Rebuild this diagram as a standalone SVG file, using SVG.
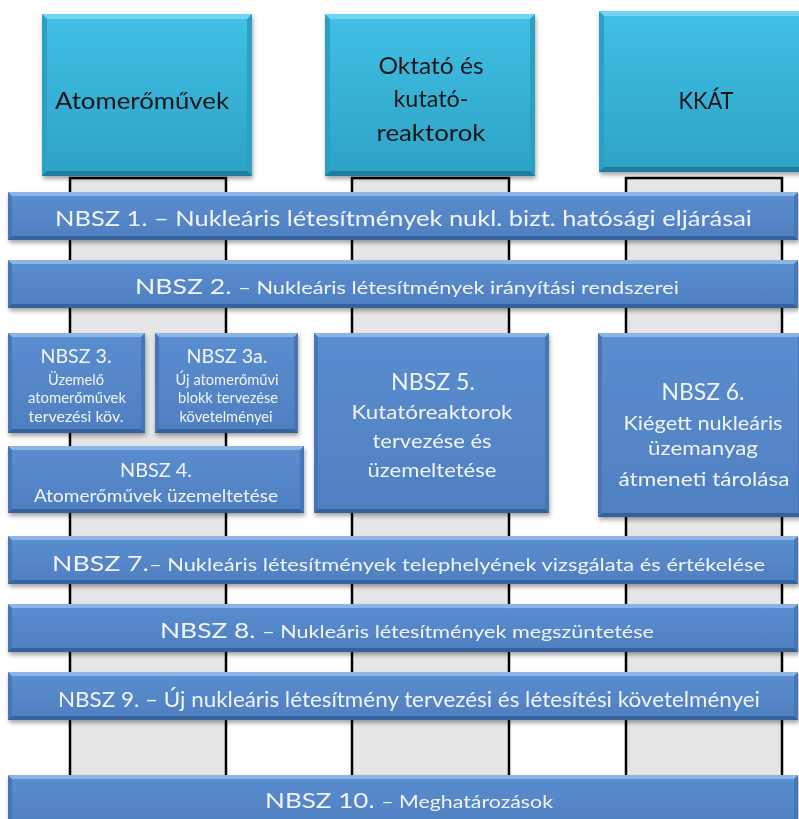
<svg xmlns="http://www.w3.org/2000/svg" width="799" height="819" viewBox="0 0 799 819">
<style>
.bs{fill:#4676b4}
.bt{fill:#8db4e6}
.bb{fill:#36629a}
.bi{fill:url(#gb)}
.hs{fill:#2aa0c4}
.ht{fill:#6fd6f2}
.hb{fill:#1c7e9c}
.hi{fill:url(#gh)}
.wt{font-family:Lato,"Open Sans","Liberation Sans",sans-serif;fill:#f1f5fb;text-anchor:middle}
.ht2{font-family:Lato,"Open Sans","Liberation Sans",sans-serif;fill:#161616;text-anchor:middle;font-size:23px}
.pil{fill:#e6e6e6}
.pl{fill:none;stroke:#000;stroke-width:2.5}
</style>
<defs>
<linearGradient id="gb" x1="0" y1="0" x2="0" y2="1">
<stop offset="0" stop-color="#5a8dcf"/>
<stop offset="1" stop-color="#4f80c1"/>
</linearGradient>
<linearGradient id="gh" x1="0" y1="0" x2="0" y2="1">
<stop offset="0" stop-color="#40bfe5"/>
<stop offset="1" stop-color="#2ea3c6"/>
</linearGradient>
<filter id="sh" x="-5%" y="-10%" width="110%" height="130%">
<feDropShadow dx="1" dy="3" stdDeviation="2" flood-color="#000" flood-opacity="0.35"/>
</filter>
</defs>

<g id="pillars">
<rect class="pil" x="70" y="178" width="156" height="597"/>
<rect class="pil" x="352" y="178" width="157" height="597"/>
<rect class="pil" x="626" y="178" width="156" height="597"/>
<path class="pl" d="M70,775V178H226V775"/>
<path class="pl" d="M352,775V178H509V775"/>
<path class="pl" d="M626,775V178H782V775"/>
</g>

<g id="h1" filter="url(#sh)">
<rect class="hs" x="42" y="14" width="210" height="162"/>
<polygon class="ht" points="42,14 252,14 247,19 47,19"/>
<polygon class="hb" points="42,176 252,176 247,171 47,171"/>
<rect class="hi" x="47" y="19" width="200" height="152"/>
<text class="ht2" x="142" y="109" textLength="174" lengthAdjust="spacingAndGlyphs">Atomerőművek</text>
</g>
<g id="h2" filter="url(#sh)">
<rect class="hs" x="325" y="14" width="210" height="162"/>
<polygon class="ht" points="325,14 535,14 530,19 330,19"/>
<polygon class="hb" points="325,176 535,176 530,171 330,171"/>
<rect class="hi" x="330" y="19" width="200" height="152"/>
<text class="ht2" x="431" y="74" textLength="105" lengthAdjust="spacingAndGlyphs">Oktató és</text>
<text class="ht2" x="431" y="107" textLength="75" lengthAdjust="spacingAndGlyphs">kutató-</text>
<text class="ht2" x="431" y="141" textLength="109" lengthAdjust="spacingAndGlyphs">reaktorok</text>
</g>
<g id="h3" filter="url(#sh)">
<rect class="hs" x="599" y="11" width="205" height="161"/>
<polygon class="ht" points="599,11 804,11 799,16 604,16"/>
<polygon class="hb" points="599,172 804,172 799,167 604,167"/>
<rect class="hi" x="604" y="16" width="195" height="151"/>
<text class="ht2" x="706" y="109" textLength="55" lengthAdjust="spacingAndGlyphs">KKÁT</text>
</g>

<g id="nbsz1" filter="url(#sh)">
<rect class="bs" x="8" y="192" width="790" height="48"/>
<polygon class="bt" points="8,192 798,192 794,196 12,196"/>
<polygon class="bb" points="8,240 798,240 794,236 12,236"/>
<rect class="bi" x="12" y="196" width="782" height="40"/>
<text class="wt" x="403.5" y="226" font-size="22" textLength="697" lengthAdjust="spacingAndGlyphs">NBSZ 1. – Nukleáris létesítmények nukl. bizt. hatósági eljárásai</text>
</g>
<g id="nbsz2" filter="url(#sh)">
<rect class="bs" x="8" y="260" width="790" height="48"/>
<polygon class="bt" points="8,260 798,260 794,264 12,264"/>
<polygon class="bb" points="8,308 798,308 794,304 12,304"/>
<rect class="bi" x="12" y="264" width="782" height="40"/>
<text class="wt" x="407" y="294" font-size="22" textLength="544" lengthAdjust="spacingAndGlyphs">NBSZ 2. <tspan font-size="18">– Nukleáris létesítmények irányítási rendszerei</tspan></text>
</g>
<g id="nbsz3" filter="url(#sh)">
<rect class="bs" x="8" y="333" width="137" height="100"/>
<polygon class="bt" points="8,333 145,333 141,337 12,337"/>
<polygon class="bb" points="8,433 145,433 141,429 12,429"/>
<rect class="bi" x="12" y="337" width="129" height="92"/>
<text class="wt" x="76" y="363" font-size="20" textLength="71" lengthAdjust="spacingAndGlyphs">NBSZ 3.</text>
<text class="wt" x="76" y="385" font-size="15" textLength="56" lengthAdjust="spacingAndGlyphs">Üzemelő</text>
<text class="wt" x="77" y="403" font-size="15" textLength="98" lengthAdjust="spacingAndGlyphs">atomerőművek</text>
<text class="wt" x="76" y="422" font-size="15" textLength="95" lengthAdjust="spacingAndGlyphs">tervezési köv.</text>
</g>
<g id="nbsz3a" filter="url(#sh)">
<rect class="bs" x="155" y="333" width="143" height="100"/>
<polygon class="bt" points="155,333 298,333 294,337 159,337"/>
<polygon class="bb" points="155,433 298,433 294,429 159,429"/>
<rect class="bi" x="159" y="337" width="135" height="92"/>
<text class="wt" x="227" y="363" font-size="20" textLength="81" lengthAdjust="spacingAndGlyphs">NBSZ 3a.</text>
<text class="wt" x="227" y="385" font-size="15" textLength="103" lengthAdjust="spacingAndGlyphs">Új atomerőművi</text>
<text class="wt" x="228" y="403" font-size="15" textLength="100" lengthAdjust="spacingAndGlyphs">blokk tervezése</text>
<text class="wt" x="226" y="422" font-size="15" textLength="93" lengthAdjust="spacingAndGlyphs">követelményei</text>
</g>
<g id="nbsz4" filter="url(#sh)">
<rect class="bs" x="8" y="446" width="296" height="67"/>
<polygon class="bt" points="8,446 304,446 300,450 12,450"/>
<polygon class="bb" points="8,513 304,513 300,509 12,509"/>
<rect class="bi" x="12" y="450" width="288" height="59"/>
<text class="wt" x="156" y="477" font-size="20" textLength="72" lengthAdjust="spacingAndGlyphs">NBSZ 4.</text>
<text class="wt" x="156" y="502" font-size="18" textLength="244" lengthAdjust="spacingAndGlyphs">Atomerőművek üzemeltetése</text>
</g>
<g id="nbsz5" filter="url(#sh)">
<rect class="bs" x="314" y="333" width="235" height="180"/>
<polygon class="bt" points="314,333 549,333 545,337 318,337"/>
<polygon class="bb" points="314,513 549,513 545,509 318,509"/>
<rect class="bi" x="318" y="337" width="227" height="172"/>
<text class="wt" x="433" y="390" font-size="23" textLength="84" lengthAdjust="spacingAndGlyphs">NBSZ 5.</text>
<text class="wt" x="432" y="419" font-size="20" textLength="161" lengthAdjust="spacingAndGlyphs">Kutatóreaktorok</text>
<text class="wt" x="432" y="448" font-size="20" textLength="119" lengthAdjust="spacingAndGlyphs">tervezése és</text>
<text class="wt" x="432" y="477" font-size="20" textLength="129" lengthAdjust="spacingAndGlyphs">üzemeltetése</text>
</g>
<g id="nbsz6" filter="url(#sh)">
<rect class="bs" x="598" y="333" width="204" height="184"/>
<polygon class="bt" points="598,333 802,333 798,337 602,337"/>
<polygon class="bb" points="598,517 802,517 798,513 602,513"/>
<rect class="bi" x="602" y="337" width="196" height="176"/>
<text class="wt" x="703" y="400" font-size="23" textLength="83" lengthAdjust="spacingAndGlyphs">NBSZ 6.</text>
<text class="wt" x="703" y="430" font-size="20" textLength="159" lengthAdjust="spacingAndGlyphs">Kiégett nukleáris</text>
<text class="wt" x="703" y="455" font-size="20" textLength="110" lengthAdjust="spacingAndGlyphs">üzemanyag</text>
<text class="wt" x="704" y="486" font-size="20" textLength="171" lengthAdjust="spacingAndGlyphs">átmeneti tárolása</text>
</g>
<g id="nbsz7" filter="url(#sh)">
<rect class="bs" x="8" y="536" width="790" height="48"/>
<polygon class="bt" points="8,536 798,536 794,540 12,540"/>
<polygon class="bb" points="8,584 798,584 794,580 12,580"/>
<rect class="bi" x="12" y="540" width="782" height="40"/>
<text class="wt" x="408.5" y="571" font-size="22" textLength="713" lengthAdjust="spacingAndGlyphs">NBSZ 7.<tspan font-size="18">– Nukleáris létesítmények telephelyének vizsgálata és értékelése</tspan></text>
</g>
<g id="nbsz8" filter="url(#sh)">
<rect class="bs" x="8" y="604" width="790" height="48"/>
<polygon class="bt" points="8,604 798,604 794,608 12,608"/>
<polygon class="bb" points="8,652 798,652 794,648 12,648"/>
<rect class="bi" x="12" y="608" width="782" height="40"/>
<text class="wt" x="407" y="638" font-size="22" textLength="494" lengthAdjust="spacingAndGlyphs">NBSZ 8. <tspan font-size="18">– Nukleáris létesítmények megszüntetése</tspan></text>
</g>
<g id="nbsz9" filter="url(#sh)">
<rect class="bs" x="8" y="672" width="790" height="48"/>
<polygon class="bt" points="8,672 798,672 794,676 12,676"/>
<polygon class="bb" points="8,720 798,720 794,716 12,716"/>
<rect class="bi" x="12" y="676" width="782" height="40"/>
<text class="wt" x="409" y="707" font-size="21" textLength="702" lengthAdjust="spacingAndGlyphs">NBSZ 9. – Új nukleáris létesítmény tervezési és létesítési követelményei</text>
</g>
<g id="nbsz10" filter="url(#sh)">
<rect class="bs" x="8" y="775" width="790" height="50"/>
<polygon class="bt" points="8,775 798,775 794,779 12,779"/>
<rect class="bi" x="12" y="779" width="782" height="46"/>
<text class="wt" x="409" y="808" font-size="22" textLength="288" lengthAdjust="spacingAndGlyphs">NBSZ 10. <tspan font-size="18">– Meghatározások</tspan></text>
</g>
</svg>
